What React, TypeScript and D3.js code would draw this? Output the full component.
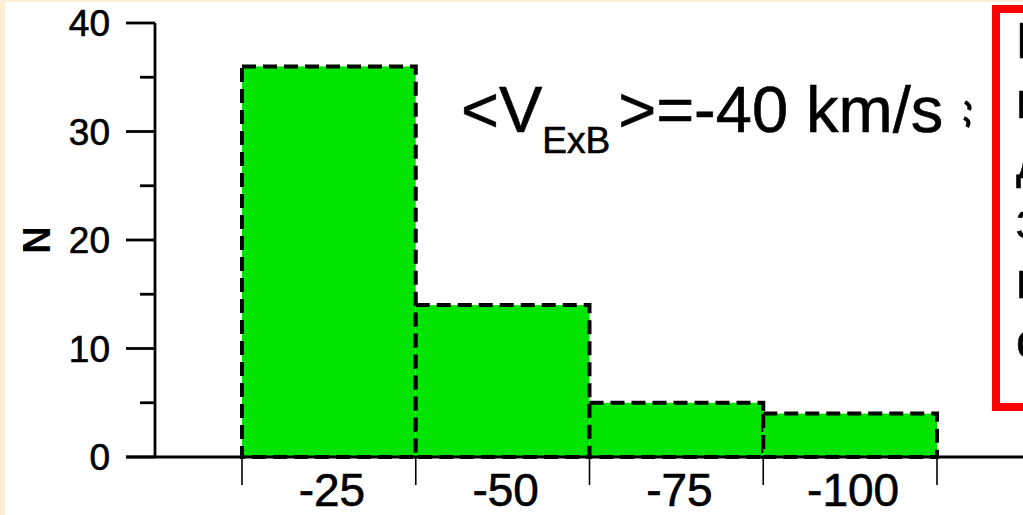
import React from "react";
import * as d3 from "d3";

const categories = ["-25", "-50", "-75", "-100"];
const counts = [36, 14, 5, 4];
const yMajorTicks = [0, 10, 20, 30, 40];
const yMinorTicks = [5, 15, 25, 35];
const boxLines = ["Р", "н", "д", "з", "п", "с"];

const W = 1023;
const H = 515;
const FONT = "'Liberation Sans', Arial, sans-serif";

export default function App() {
  const x = d3.scaleBand<string>().domain(categories).range([242, 937]).paddingInner(0).paddingOuter(0);
  const y = d3.scaleLinear().domain([0, 40]).range([457, 23]);
  const edges = [...categories.map((c) => x(c) as number), (x(categories[categories.length - 1]) as number) + x.bandwidth()];
  const textStroke = { stroke: "#000", strokeWidth: 0.6 };

  return (
    <div style={{ position: "absolute", left: 0, top: 0 }}>
      <svg width={W} height={H} style={{ display: "block" }} fontFamily={FONT}>
        <rect x={0} y={0} width={W} height={H} fill="#FCEFD7" />
        <rect x={5} y={2} width={W - 5} height={H - 2} fill="#ffffff" />

        {/* bars */}
        {categories.map((c, i) => (
          <rect
            key={c}
            x={x(c) as number}
            y={y(counts[i])}
            width={x.bandwidth()}
            height={y(0) - y(counts[i])}
            fill="#00E400"
            stroke="#000"
            strokeWidth={4}
            strokeDasharray="14 7"
          />
        ))}

        {/* y axis */}
        <line x1={155} x2={155} y1={y(40)} y2={y(0)} stroke="#000" strokeWidth={2.8} />
        {yMajorTicks.map((t) => (
          <g key={"M" + t}>
            <line x1={126} x2={155} y1={y(t)} y2={y(t)} stroke="#000" strokeWidth={2.8} />
            <text x={110} y={y(t)} dy="0.36em" textAnchor="end" fontSize={37} fill="#000" {...textStroke}>
              {t}
            </text>
          </g>
        ))}
        {yMinorTicks.map((t) => (
          <line key={"m" + t} x1={140} x2={155} y1={y(t)} y2={y(t)} stroke="#000" strokeWidth={2.8} />
        ))}
        <text transform={`translate(50,${240}) rotate(-90)`} textAnchor="middle" fontSize={38} fontWeight="bold" fill="#000">
          N
        </text>

        {/* x axis */}
        <line x1={126} x2={W} y1={y(0)} y2={y(0)} stroke="#000" strokeWidth={2.8} />
        {edges.map((e, i) => (
          <line key={"e" + i} x1={e} x2={e} y1={y(0)} y2={485} stroke="#000" strokeWidth={1.6} />
        ))}
        {categories.map((c) => (
          <text key={"l" + c} x={(x(c) as number) + x.bandwidth() / 2 + 3} y={506} textAnchor="middle" fontSize={46} fill="#000" {...textStroke}>
            {c}
          </text>
        ))}

        {/* annotation */}
        <text x={461} y={132} fontSize={65} fill="#000" {...textStroke}>
          {"<V"}
          <tspan fontSize={37} dy={21}>ExB</tspan>
          <tspan dy={-21} dx={8}>{">=-40 km/s"}</tspan>
        </text>
        {/* cut-off glyph fragment to the right of the annotation */}
        <path d="M965,102 Q971,105 969,110 M964,118 Q971,121 967,127" fill="none" stroke="#000" strokeWidth={4} />

        {/* red box */}
        <rect x={996} y={9} width={60} height={398} fill="#ffffff" stroke="#FF0000" strokeWidth={8} />
        {boxLines.map((t, i) => (
          <text key={"b" + i} x={1016} y={58 + i * 60} fontSize={50} fill="#000" {...textStroke}>
            {t}
          </text>
        ))}
      </svg>
    </div>
  );
}
